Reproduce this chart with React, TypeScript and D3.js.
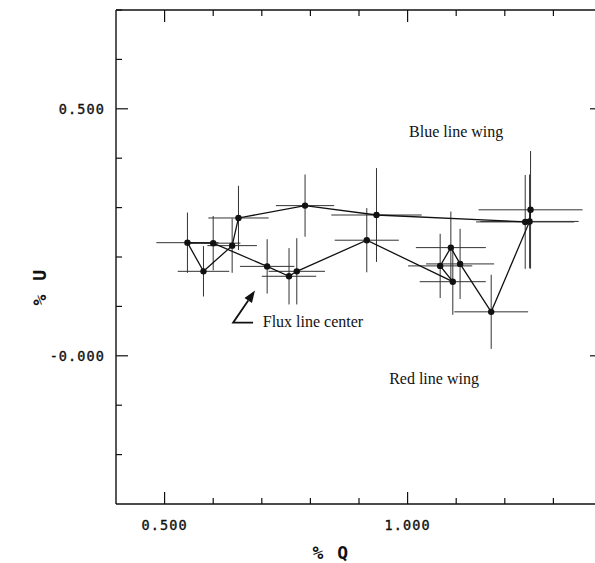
import React from "react";
import * as d3 from "d3";

// Polarization points (%Q, %U) in observed order, with 1-sigma errors
const qValues = [1.242, 0.936, 0.789, 0.652, 0.639, 0.580, 0.547, 0.600, 0.711, 0.756, 0.772, 0.916, 1.093, 1.067, 1.089, 1.108, 1.172, 1.251, 1.253];
const uValues = [0.271, 0.285, 0.304, 0.279, 0.223, 0.171, 0.229, 0.228, 0.181, 0.161, 0.171, 0.234, 0.150, 0.182, 0.219, 0.186, 0.089, 0.272, 0.2955];
const qErrors = [0.101, 0.093, 0.060, 0.062, 0.051, 0.053, 0.064, 0.056, 0.056, 0.056, 0.058, 0.066, 0.068, 0.066, 0.072, 0.070, 0.076, 0.101, 0.107];
const uErrors = [0.095, 0.095, 0.063, 0.065, 0.055, 0.051, 0.061, 0.055, 0.055, 0.057, 0.067, 0.065, 0.067, 0.065, 0.073, 0.071, 0.075, 0.095, 0.119];

const xMajorTicks = [0.5, 1.0];
const xTickLabels = ["0.500", "1.000"];
const yMajorTicks = [0.0, 0.5];
const yTickLabels = ["-0.000", "0.500"];
const minorStep = 0.1;

const annotations = [
  { text: "Blue line wing", q: 1.003, u: 0.443 },
  { text: "Flux line center", q: 0.702, u: 0.059 },
  { text: "Red line wing", q: 0.962, u: -0.057 },
];
// arrow path in data coordinates: tail end, corner, tip
const arrowQ = [0.682, 0.641, 0.686];
const arrowU = [0.067, 0.067, 0.132];

const W = 595;
const H = 563;

export default function App() {
  const x = d3.scaleLinear().domain([0.4, 1.4]).range([116, 602]);
  const y = d3.scaleLinear().domain([-0.3, 0.7]).range([504, 10]);
  const [x0, x1] = x.range();
  const [y0, y1] = y.range();

  const xMinor = d3.range(0.5, 1.4001, minorStep).map((v) => +v.toFixed(2));
  const yMinor = d3.range(-0.2, 0.7001, minorStep).map((v) => +v.toFixed(2));
  const isMajor = (v: number, majors: number[]) => majors.some((m) => Math.abs(m - v) < 1e-6);

  const pts = qValues.map((q, i) => ({ q, u: uValues[i], eq: qErrors[i], eu: uErrors[i] }));
  const line = d3
    .line<{ q: number; u: number }>()
    .x((d) => x(d.q))
    .y((d) => y(d.u));

  const arrowPts = arrowQ.map((q, i) => [x(q), y(arrowU[i])] as [number, number]);
  const tip = arrowPts[2];
  const from = arrowPts[1];
  const ang = Math.atan2(tip[1] - from[1], tip[0] - from[0]);
  const hl = 12;
  const hw = 4.5;
  const base = [tip[0] - hl * Math.cos(ang), tip[1] - hl * Math.sin(ang)];
  const head = [
    tip,
    [base[0] + hw * Math.sin(ang), base[1] - hw * Math.cos(ang)],
    [base[0] - hw * Math.sin(ang), base[1] + hw * Math.cos(ang)],
  ];
  const arrowLine = d3.line()([arrowPts[0], arrowPts[1], base as [number, number]]);

  const tickFont = "'DejaVu Sans Mono', monospace";

  return (
    <svg width={W} height={H} style={{ position: "absolute", left: 0, top: 0, background: "#fff" }}>
      {/* frame */}
      <g stroke="#111" strokeWidth={1.4} fill="none">
        <line x1={x0} y1={y0} x2={x1} y2={y0} />
        <line x1={x0} y1={y1} x2={x1} y2={y1} />
        <line x1={x0} y1={y0} x2={x0} y2={y1} />
        <line x1={x1} y1={y0} x2={x1} y2={y1} />
      </g>
      {/* ticks */}
      <g stroke="#111" strokeWidth={1.2}>
        {xMinor.map((v) => {
          const len = isMajor(v, xMajorTicks) ? 12 : 6;
          return (
            <g key={"xt" + v}>
              <line x1={x(v)} x2={x(v)} y1={y0} y2={y0 - len} />
              <line x1={x(v)} x2={x(v)} y1={y1} y2={y1 + len} />
            </g>
          );
        })}
        {yMinor.map((v) => {
          const len = isMajor(v, yMajorTicks) ? 12 : 6;
          return (
            <g key={"yt" + v}>
              <line x1={x0} x2={x0 + len} y1={y(v)} y2={y(v)} />
              <line x1={x1} x2={x1 - len} y1={y(v)} y2={y(v)} />
            </g>
          );
        })}
      </g>
      {/* tick labels */}
      <g fontFamily={tickFont} fontSize={13.5} fill="#111" stroke="#111" strokeWidth={0.35} letterSpacing={1.1}>
        {xMajorTicks.map((v, i) => (
          <text key={"xl" + v} x={x(v)} y={530} textAnchor="middle">
            {xTickLabels[i]}
          </text>
        ))}
        {yMajorTicks.map((v, i) => (
          <text key={"yl" + v} x={105} y={y(v) + 5} textAnchor="end">
            {yTickLabels[i]}
          </text>
        ))}
      </g>
      {/* axis titles */}
      <text x={331} y={559} textAnchor="middle" fontFamily={tickFont} fontWeight="bold" fontSize={18} fill="#111" letterSpacing={1.5}>
        % Q
      </text>
      <text
        transform={`translate(46,287) rotate(-90)`}
        textAnchor="middle"
        fontFamily={tickFont}
        fontWeight="bold"
        fontSize={18}
        fill="#111"
        letterSpacing={1.5}
      >
        % U
      </text>
      {/* error bars */}
      <g stroke="#333" strokeWidth={1}>
        {pts.map((p, i) => (
          <g key={"e" + i}>
            <line x1={x(p.q - p.eq)} x2={x(p.q + p.eq)} y1={y(p.u)} y2={y(p.u)} />
            <line x1={x(p.q)} x2={x(p.q)} y1={y(p.u - p.eu)} y2={y(p.u + p.eu)} />
          </g>
        ))}
      </g>
      {/* connecting line */}
      <path d={line(pts) || ""} fill="none" stroke="#111" strokeWidth={1.3} />
      {/* markers */}
      <g fill="#111">
        {pts.map((p, i) => (
          <circle key={"c" + i} cx={x(p.q)} cy={y(p.u)} r={3.2} />
        ))}
      </g>
      {/* annotations */}
      <g fontFamily="'Liberation Serif', 'Times New Roman', serif" fontSize={16} fill="#111">
        {annotations.map((a) => (
          <text key={a.text} x={x(a.q)} y={y(a.u)}>
            {a.text}
          </text>
        ))}
      </g>
      <path d={arrowLine || ""} fill="none" stroke="#111" strokeWidth={1.8} />
      <polygon points={head.map((p) => p.join(",")).join(" ")} fill="#111" />
    </svg>
  );
}
